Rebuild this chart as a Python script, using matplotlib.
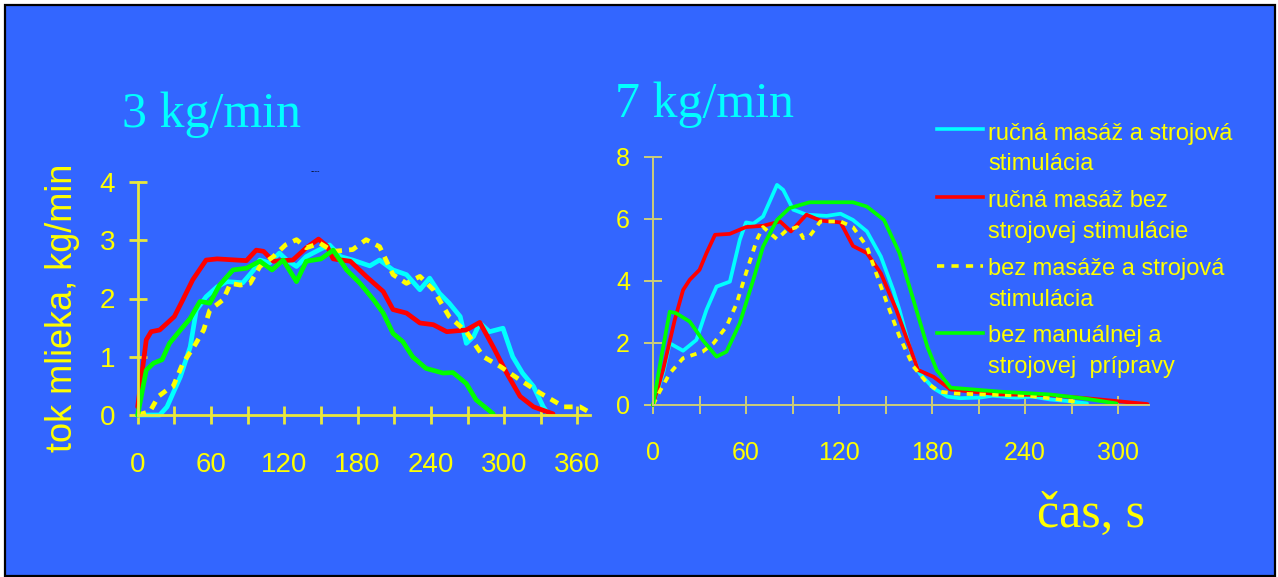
import matplotlib
matplotlib.use("Agg")
import matplotlib.pyplot as plt
from matplotlib.lines import Line2D
from matplotlib.patches import Rectangle
from matplotlib.ticker import MultipleLocator

# ---------------- data : 3 kg/min ----------------
L_CYAN_T = [0, 18, 24, 35, 43, 48, 56, 65, 73, 86, 95, 100, 108, 116, 122, 130, 138, 149, 157, 166,
            176, 190, 198, 209, 220, 231, 239, 247, 255, 264, 269, 275, 280, 288, 299, 307, 315, 324, 332, 336]
L_CYAN_Y = [0, 0, 0.14, 0.66, 1.17, 1.8, 2.03, 2.2, 2.29, 2.27, 2.49, 2.66, 2.61, 2.78, 2.66, 2.55, 2.72, 2.84, 2.92, 2.72,
            2.66, 2.56, 2.66, 2.49, 2.41, 2.15, 2.35, 2.09, 1.92, 1.69, 1.23, 1.35, 1.58, 1.43, 1.49, 1.0, 0.72, 0.49, 0.14, 0.02]

L_RED_T = [0, 7, 11, 18, 30, 37, 45, 56, 65, 89, 97, 103, 111, 127, 138, 148, 155, 160, 174, 187, 201, 209,
           220, 231, 242, 253, 269, 280, 291, 302, 313, 324, 340]
L_RED_Y = [0.14, 1.29, 1.43, 1.46, 1.69, 1.98, 2.32, 2.66, 2.68, 2.65, 2.83, 2.81, 2.64, 2.66, 2.87, 3.02, 2.9, 2.68, 2.64, 2.38, 2.12, 1.81,
           1.75, 1.58, 1.55, 1.43, 1.46, 1.59, 1.17, 0.72, 0.32, 0.14, 0.02]

L_YEL_T = [0, 10, 17, 24, 29, 37, 46, 54, 59, 70, 76, 84, 92, 100, 111, 121, 130, 138, 149, 160, 176, 187,
           198, 209, 220, 231, 242, 255, 269, 283, 297, 313, 330, 349, 362, 372]
L_YEL_Y = [0, 0.06, 0.32, 0.43, 0.49, 0.89, 1.17, 1.46, 1.8, 1.98, 2.26, 2.23, 2.26, 2.55, 2.72, 2.92, 3.01, 2.87, 2.95, 2.81, 2.84, 3.01,
           2.89, 2.41, 2.26, 2.38, 2.15, 1.69, 1.43, 1.0, 0.83, 0.6, 0.37, 0.14, 0.14, 0.02]

L_GRN_T = [0, 7, 13, 20, 26, 35, 43, 51, 59, 67, 78, 89, 100, 110, 119, 130, 138, 150, 160, 171, 182, 193,
           201, 209, 217, 225, 236, 250, 258, 269, 277, 291]
L_GRN_Y = [0, 0.77, 0.89, 0.95, 1.23, 1.46, 1.66, 1.95, 1.92, 2.23, 2.49, 2.52, 2.64, 2.49, 2.66, 2.29, 2.64, 2.68, 2.83, 2.49, 2.26, 1.98,
           1.75, 1.4, 1.26, 1.0, 0.8, 0.72, 0.73, 0.54, 0.26, 0.02]

# ---------------- data : 7 kg/min ----------------
R_CYAN_T = [0, 6.5, 10.8, 19.4, 28, 34.5, 41, 49.6, 56, 60, 64.7, 71, 80, 84, 90.5, 99, 112, 121, 129, 138, 147,
            155, 159, 166, 172, 181, 190, 198, 211, 219, 234, 245, 256, 267, 280]
R_CYAN_Y = [0, 1.02, 1.99, 1.75, 2.1, 3.07, 3.82, 3.98, 5.33, 5.89, 5.85, 6.08, 7.1, 6.94, 6.3, 6.14, 6.1, 6.17, 5.97, 5.6, 4.79,
            3.71, 3.07, 1.78, 1.02, 0.54, 0.27, 0.22, 0.24, 0.3, 0.24, 0.27, 0.18, 0.13, 0.05]

R_RED_T = [0, 6.5, 14, 19.4, 23.7, 30, 34.5, 40, 49.5, 60, 71, 82, 89, 99, 108, 121, 129, 138, 147, 157, 164,
           171, 181, 192, 224, 256, 288, 319]
R_RED_Y = [0, 1.13, 2.74, 3.71, 4.04, 4.36, 4.9, 5.49, 5.52, 5.74, 5.78, 5.92, 5.6, 6.14, 5.95, 5.89, 5.13, 4.9, 4.25, 3.07, 2.1,
           1.13, 0.91, 0.5, 0.34, 0.32, 0.18, 0.03]

R_YEL_T = [0, 4.3, 10.8, 19.4, 32, 39, 47.4, 54, 60, 67, 71, 80, 86, 93, 97, 101, 108, 121, 129, 138, 144,
           151, 159, 168, 177, 185, 195, 213, 241, 256, 275]
R_YEL_Y = [0, 0.43, 1.02, 1.51, 1.72, 1.99, 2.53, 3.28, 4.25, 5.33, 5.74, 5.35, 5.63, 5.74, 5.38, 5.44, 5.92, 5.92, 5.74, 5.11, 4.25,
           3.28, 2.21, 1.24, 0.7, 0.43, 0.37, 0.34, 0.3, 0.22, 0.09]

R_GRN_T = [0, 5.4, 10.8, 15, 23.7, 32, 41, 47.4, 56, 64.7, 71, 80, 88, 101, 129, 138, 149, 159, 168, 177,
           183, 192, 224, 256, 277, 299]
R_GRN_Y = [0, 1.56, 3.01, 2.96, 2.69, 2.1, 1.56, 1.72, 2.64, 4.04, 5.11, 5.97, 6.35, 6.54, 6.54, 6.4, 5.97, 4.9, 3.39, 1.88,
           1.13, 0.56, 0.43, 0.34, 0.22, 0.05]

LEFT_TITLE = "3 kg/min"
RIGHT_TITLE = "7 kg/min"
Y_LABEL = "tok mlieka, kg/min"
X_LABEL = "čas, s"
LEFT_XTICKS = [0, 60, 120, 180, 240, 300, 360]
LEFT_YTICKS = [0, 1, 2, 3, 4]
RIGHT_XTICKS = [0, 60, 120, 180, 240, 300]
RIGHT_YTICKS = [0, 2, 4, 6, 8]
LEGEND_LABELS = [("ručná masáž a strojová", "stimulácia"),
                 ("ručná masáž bez", "strojovej stimulácie"),
                 ("bez masáže a strojová", "stimulácia"),
                 ("bez manuálnej a", "strojovej  prípravy")]

# ---------------- styling ----------------
W, H = 1278, 577
BG = "#3366FF"
YEL = "#FFFF00"
CYAN = "#00FFFF"
RED = "#FF0000"
GREEN = "#00FF00"
SANS = ["Liberation Sans", "DejaVu Sans"]
SERIF = ["Liberation Serif", "DejaVu Serif"]


def fx(x):
    return x / W


def fy(y):
    return 1 - y / H


fig = plt.figure(figsize=(W / 100, H / 100), dpi=100, facecolor="white")
fig.add_artist(Rectangle((fx(5), fy(576)), fx(1270), 571 / H, transform=fig.transFigure,
                         facecolor=BG, edgecolor="black", linewidth=1.6, zorder=-10))


def style_axes(ax, spine_col, spine_w, tick_size, lab_size, xpad, ypad):
    ax.set_facecolor("none")
    for s in ("top", "right"):
        ax.spines[s].set_visible(False)
    for s in ("left", "bottom"):
        ax.spines[s].set_color(spine_col)
        ax.spines[s].set_linewidth(spine_w)
    ax.tick_params(axis="both", which="both", direction="inout", length=tick_size,
                   width=spine_w, color=spine_col, labelcolor=YEL, labelsize=lab_size)
    ax.tick_params(axis="x", which="both", pad=xpad)
    ax.tick_params(axis="y", which="both", pad=ypad)
    for lab in ax.get_xticklabels() + ax.get_yticklabels():
        lab.set_family(SANS)


LINE_KW = dict(clip_on=False, solid_capstyle="round", solid_joinstyle="round", dash_joinstyle="round")

# ---------------- left panel ----------------
axL = fig.add_axes([fx(137.7), fy(415), 452 / W, 233 / H])
axL.set_xlim(0, 370)
axL.set_ylim(0, 4)
axL.set_xticks(LEFT_XTICKS)
axL.set_yticks(LEFT_YTICKS)
axL.xaxis.set_minor_locator(MultipleLocator(30))
lw_l = 3.4
axL.plot(L_CYAN_T, L_CYAN_Y, color=CYAN, lw=lw_l, **LINE_KW)
axL.plot(L_RED_T, L_RED_Y, color=RED, lw=lw_l, **LINE_KW)
axL.plot(L_YEL_T, L_YEL_Y, color=YEL, lw=lw_l, dashes=(1.8, 1.5), **LINE_KW)
axL.plot(L_GRN_T, L_GRN_Y, color=GREEN, lw=lw_l, **LINE_KW)
style_axes(axL, "#E8E83C", 2.0, 13, 20, 20.5, 9.8)

# ---------------- right panel ----------------
axR = fig.add_axes([fx(653), fy(405), 496 / W, 248 / H])
axR.set_xlim(0, 320)
axR.set_ylim(0, 8)
axR.set_xticks(RIGHT_XTICKS)
axR.set_yticks(RIGHT_YTICKS)
axR.xaxis.set_minor_locator(MultipleLocator(30))
lw_r = 2.7
axR.plot(R_CYAN_T, R_CYAN_Y, color=CYAN, lw=lw_r, **LINE_KW)
axR.plot(R_RED_T, R_RED_Y, color=RED, lw=lw_r, **LINE_KW)
axR.plot(R_YEL_T, R_YEL_Y, color=YEL, lw=lw_r, dashes=(1.7, 1.7), **LINE_KW)
axR.plot(R_GRN_T, R_GRN_Y, color=GREEN, lw=lw_r, **LINE_KW)
style_axes(axR, "#CDCD78", 1.4, 13, 18, 19.5, 10)

# ---------------- texts ----------------
fig.text(fx(122), fy(127), LEFT_TITLE, color=CYAN, fontsize=36, family=SERIF, va="baseline", ha="left")
fig.text(fx(615), fy(117), RIGHT_TITLE, color=CYAN, fontsize=36, family=SERIF, va="baseline", ha="left")
fig.text(fx(1037), fy(527), X_LABEL, color=YEL, fontsize=36, family=SERIF, va="baseline", ha="left")
fig.text(fx(62), fy(308), Y_LABEL, color=YEL, fontsize=26, family=SANS, rotation=90,
         va="center", ha="center")
fig.text(fx(311), fy(172), "----", color="black", fontsize=5, family=SANS, va="center", ha="left")

# ---------------- legend (manual) ----------------
leg_colors = [CYAN, RED, YEL, GREEN]
leg_dashed = [False, False, True, False]
leg_line_y = [129, 197, 266, 333]
leg_base1 = [140, 207, 275, 342]
for (l1, l2), col, dsh, ly, b1 in zip(LEGEND_LABELS, leg_colors, leg_dashed, leg_line_y, leg_base1):
    kw = dict(dashes=(2.0, 2.0)) if dsh else {}
    fig.add_artist(Line2D([fx(937), fx(983)], [fy(ly), fy(ly)], transform=fig.transFigure,
                          color=col, lw=2.6, **kw))
    fig.text(fx(988), fy(b1), l1, color=YEL, fontsize=17, family=SANS, va="baseline", ha="left")
    fig.text(fx(988), fy(b1 + 30.5), l2, color=YEL, fontsize=17, family=SANS, va="baseline", ha="left")

fig.savefig("out.png", dpi=100, facecolor=fig.get_facecolor())
